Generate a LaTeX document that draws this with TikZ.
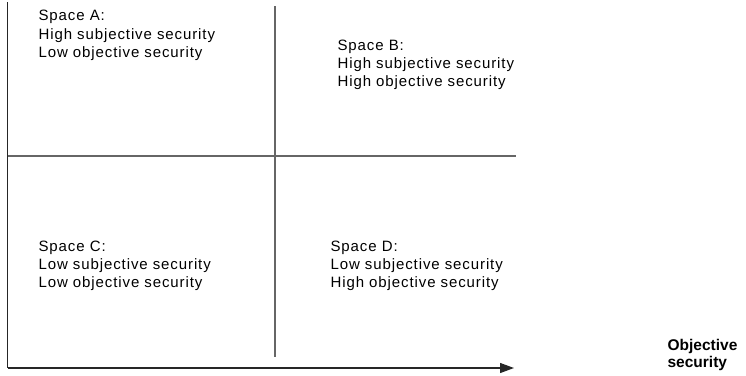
\documentclass[tikz,border=0pt]{standalone}
\usepackage{fontspec}
\setmainfont{Liberation Sans}
\newfontfamily\spacedfont[LetterSpace=6]{Liberation Sans}
\usetikzlibrary{arrows.meta,positioning}

\begin{document}
\begin{tikzpicture}[x=1pt, y=-1pt, line width=1.2pt,
        quad/.style={anchor=base west, align=left, inner sep=0pt, font=\spacedfont\fontsize{15}{18.3}\selectfont},
        axis/.style={draw=black!85},
        grid/.style={draw=black!60}]
        \useasboundingbox (0,0) rectangle (746,375);
        % Nodes (placed at the baseline of their last line)
        \coordinate (top) at (7.5,2);
        \coordinate (origin) at (7.5,368);
        \coordinate (xend) at (514,368);
        \coordinate (midtop) at (275,6);
        \coordinate (midbot) at (275,357);
        \coordinate (midleft) at (7.5,156);
        \coordinate (midright) at (516,156);
        \node (A) [quad] at (38,57.3) {Space A:\\High subjective security\\Low objective security};
        \node (B) [quad] at (337,86.6) {Space B:\\High subjective security\\High objective security};
        \node (C) [quad] at (38,287.6) {Space C:\\Low subjective security\\Low objective security};
        \node (D) [quad] at (330,287.6) {Space D:\\Low subjective security\\High objective security};
        \node (xlabel) [anchor=base west, align=left, inner sep=0pt, font=\bfseries\fontsize{15.5}{17}\selectfont] at (667,367) {Objective\\security};

        % Edges
        \draw[axis] (top) -- (origin);
        \draw[axis, -{Triangle[length=14pt,width=10pt]}] (origin) -- (xend);
        \draw[grid] (midtop) -- (midbot);
        \draw[grid] (midleft) -- (midright);
\end{tikzpicture}
\end{document}
